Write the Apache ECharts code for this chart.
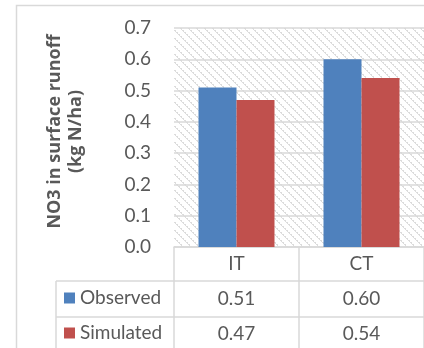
<!DOCTYPE html>
<html>
<head>
<meta charset="utf-8">
<script src="https://cdn.jsdelivr.net/npm/echarts@6/dist/echarts.min.js"></script>
<style>html,body{margin:0;padding:0;background:#fff;}#c{width:424px;height:348px;}</style>
</head>
<body>
<div id="c"></div>
<script>
const categories = ['IT', 'CT'];
const observed = [0.51, 0.60];
const simulated = [0.47, 0.54];
const seriesNames = ['Observed', 'Simulated'];
const yTicks = [0, 0.1, 0.2, 0.3, 0.4, 0.5, 0.6, 0.7];

const FONT = 'Lato';
const TXT = '#595959';
const LINE = '#d9d9d9';
const G = { left: 174, top: 28, width: 266, height: 219 };
const ROW = [34, 36, 36];

// hatch pattern
const pc = document.createElement('canvas');
pc.width = 8; pc.height = 8;
const px = pc.getContext('2d');
px.fillStyle = '#ffffff'; px.fillRect(0, 0, 8, 8);
px.fillStyle = '#dcdcdc';
for (let i = 0; i < 8; i++) { px.fillRect(i, i, 1, 1); if (i % 2 === 0) px.fillRect((i + 1) % 8, i, 1, 1); }

const chart = echarts.init(document.getElementById('c'), null, { renderer: 'canvas' });

function tableAxis(data, offset, len, margin) {
  return {
    type: 'category', gridIndex: 0, position: 'bottom', offset: offset, data: data,
    axisLine: { show: true, lineStyle: { color: LINE, width: 1.5 } },
    axisTick: { show: true, length: len, lineStyle: { color: LINE, width: 1.5 } },
    axisLabel: { show: true, margin: margin, verticalAlign: 'middle', fontFamily: FONT, fontSize: 19, color: TXT },
    splitLine: { show: false }
  };
}

const gBottom = G.top + G.height;
const r1 = gBottom + ROW[0];
const r2 = r1 + ROW[1];
const tableLeft = 56;

chart.setOption({
  animation: false,
  grid: { left: G.left, top: G.top, width: G.width, height: G.height, show: true, borderWidth: 0,
          backgroundColor: { image: pc, repeat: 'repeat' } },
  legend: {
    orient: 'vertical', left: 64, top: r1 + 7, padding: 0, itemWidth: 11, itemHeight: 11, itemGap: 15,
    icon: 'rect', data: seriesNames,
    textStyle: { fontFamily: FONT, fontSize: 19, color: TXT, lineHeight: 20 }
  },
  xAxis: [
    tableAxis(categories, 0, ROW[0], 17),
    tableAxis(observed.map(v => v.toFixed(2)), ROW[0], ROW[1], 18),
    tableAxis(simulated.map(v => v.toFixed(2)), ROW[0] + ROW[1], ROW[2], 17)
  ],
  yAxis: {
    type: 'value', min: yTicks[0], max: yTicks[yTicks.length - 1], interval: 0.1,
    axisLine: { show: false }, axisTick: { show: false },
    axisLabel: { margin: 23, fontFamily: FONT, fontSize: 19, color: TXT, formatter: v => v.toFixed(1) },
    splitLine: { lineStyle: { color: LINE, width: 1.5 } },
    name: 'NO3 in surface runoff\n(kg N/ha)', nameLocation: 'middle', nameRotate: 90, nameGap: 88,
    nameTextStyle: { fontFamily: 'Open Sans', fontSize: 18, fontWeight: 'bold', color: TXT, lineHeight: 21, padding: [0, 0, 0, 12] }
  },
  series: [
    { name: seriesNames[0], type: 'bar', data: observed, barWidth: 38, barGap: '0%', itemStyle: { color: '#4F81BD' } },
    { name: seriesNames[1], type: 'bar', data: simulated, barWidth: 38, barGap: '0%', itemStyle: { color: '#C0504D' } }
  ],
  graphic: [
    { type: 'rect', shape: { x: 16.5, y: 5.5, width: 600, height: 600 }, style: { fill: null, stroke: LINE, lineWidth: 1.5 }, silent: true },
    { type: 'line', shape: { x1: tableLeft, y1: r1, x2: G.left, y2: r1 }, style: { stroke: LINE, lineWidth: 1.5 } },
    { type: 'line', shape: { x1: tableLeft, y1: r2, x2: G.left, y2: r2 }, style: { stroke: LINE, lineWidth: 1.5 } },
    { type: 'line', shape: { x1: tableLeft, y1: r1, x2: tableLeft, y2: 400 }, style: { stroke: LINE, lineWidth: 1.5 } }
  ]
});
</script>
</body>
</html>
